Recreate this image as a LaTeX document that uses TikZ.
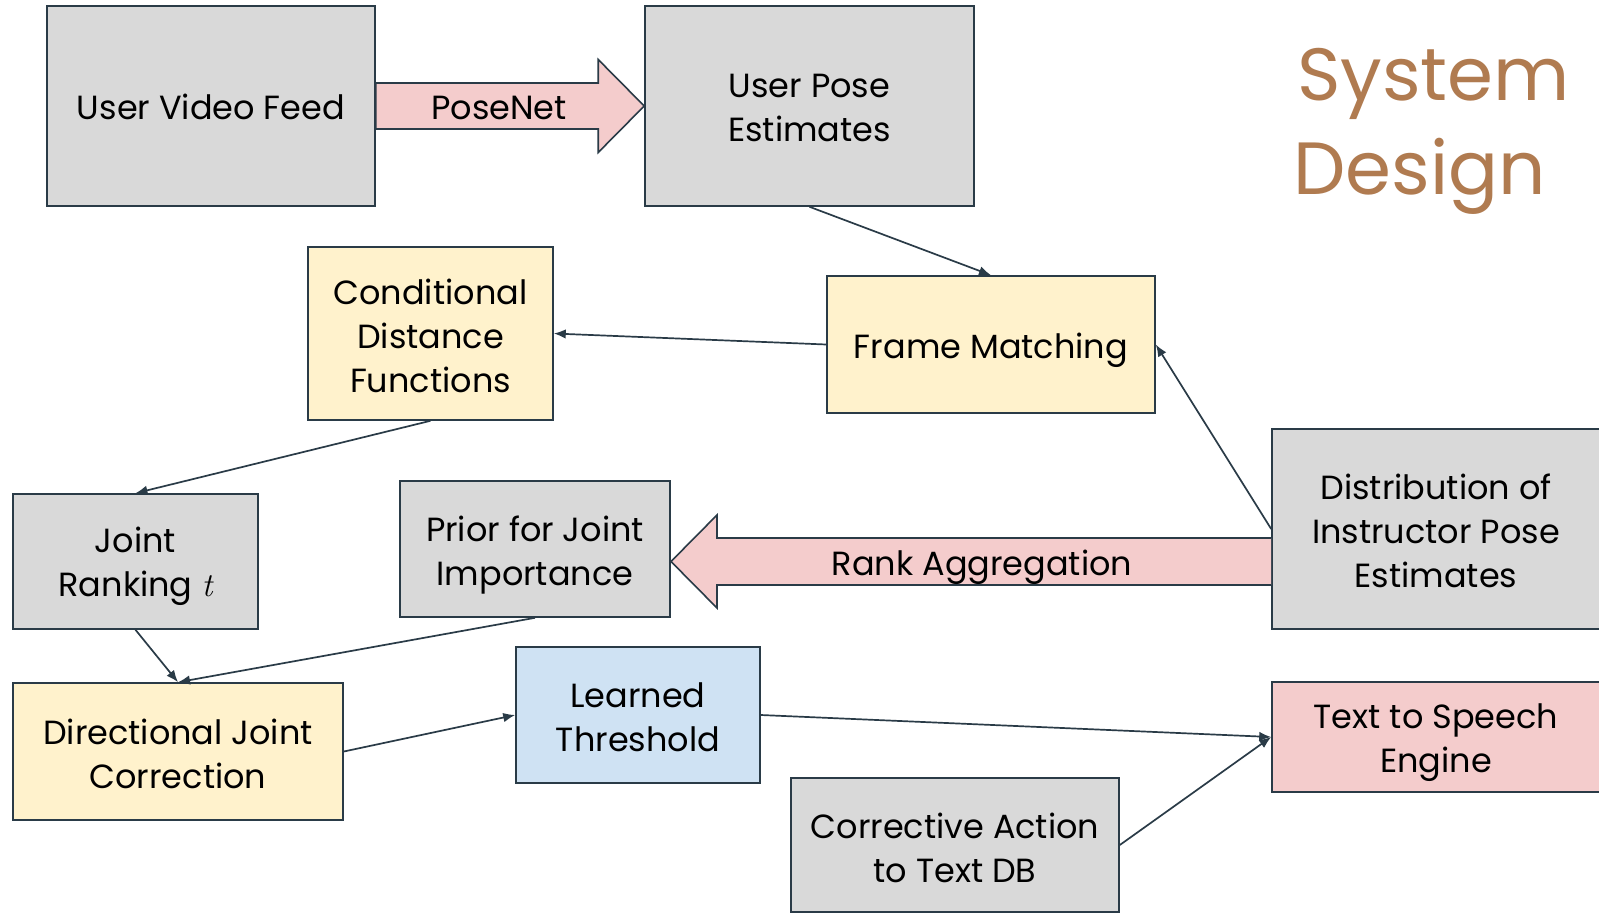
\documentclass[tikz,border=0pt]{standalone}
\usepackage{fontspec}
\setmainfont{Poppins}
\newfontfamily\lmrfont{Latin Modern Roman}
\usetikzlibrary{calc,arrows.meta}
\definecolor{boxgray}{HTML}{D9D9D9}
\definecolor{boxyellow}{HTML}{FFF2CC}
\definecolor{boxblue}{HTML}{CFE2F3}
\definecolor{boxpink}{HTML}{F4CCCC}
\definecolor{edge}{HTML}{2A3B47}
\definecolor{titlecol}{HTML}{B07B50}
\tikzset{
  box/.style={draw=edge, line width=1.6pt, inner sep=0pt},
  gbox/.style={box, fill=boxgray},
  ybox/.style={box, fill=boxyellow},
  bbox/.style={box, fill=boxblue},
  pbox/.style={box, fill=boxpink},
  txt/.style={inner sep=0pt, align=center, font=\fontsize{33.5}{44}\selectfont},
  conn/.style={draw=edge, line width=1.7pt, -{Latex[length=12pt,width=9.5pt]}},
  blockarrow/.style={draw=edge, fill=boxpink, line width=1.6pt, line join=miter},
  titletext/.style={font=\fontsize{74}{94}\selectfont, text=titlecol, inner sep=0pt, anchor=base west}
}
\begin{document}
\begin{tikzpicture}[x=1pt,y=-1pt]
\useasboundingbox (0,0) rectangle (1599,913);
\clip (0,0) rectangle (1599,913);
\fill[white] (0,0) rectangle (1599,913);

\node[gbox, minimum width=328pt, minimum height=200pt] (uvf) at (211,106) {};
\node[txt, yshift=-1pt] (uvft) at (uvf) {User Video Feed};
\node[gbox, minimum width=329pt, minimum height=200pt] (upe) at (809.5,106) {};
\node[txt, yshift=-2pt] (upet) at (upe) {User Pose\\Estimates};
\node[ybox, minimum width=328pt, minimum height=137pt] (fm) at (991,344.5) {};
\node[txt, yshift=-6pt] (fmt) at (fm) {Frame Matching};
\node[ybox, minimum width=245pt, minimum height=173pt] (cdf) at (430.5,333.5) {};
\node[txt, yshift=-2pt] (cdft) at (cdf) {Conditional\\Distance\\Functions};
\node[gbox, minimum width=245pt, minimum height=135pt] (jr) at (135.5,561.5) {};
\node[txt, yshift=-5pt] (jrt) at (jr) {Joint\\Ranking {\lmrfont\itshape t}};
\node[gbox, minimum width=270pt, minimum height=136pt] (pji) at (535,549) {};
\node[txt, yshift=-6pt] (pjit) at (pji) {Prior for Joint\\Importance};
\node[gbox, minimum width=328pt, minimum height=200pt] (dist) at (1436,529) {};
\node[txt, yshift=-2pt] (distt) at (dist) {Distribution of\\Instructor Pose\\Estimates};
\node[ybox, minimum width=330pt, minimum height=137pt] (djc) at (178,751.5) {};
\node[txt, yshift=-2pt] (djct) at (djc) {Directional Joint\\Correction};
\node[bbox, minimum width=244pt, minimum height=136pt] (lt) at (638,715) {};
\node[txt, yshift=-2pt] (ltt) at (lt) {Learned\\Threshold};
\node[pbox, minimum width=328pt, minimum height=110pt] (tts) at (1436,737) {};
\node[txt, yshift=-6pt] (ttst) at (tts) {Text to Speech\\Engine};
\node[gbox, minimum width=328pt, minimum height=134pt] (cat) at (955,845) {};
\node[txt, yshift=-3pt] (catt) at (cat) {Corrective Action\\to Text DB};

% PoseNet block arrow
\draw[blockarrow] ($(uvf.east)+(0,23)$) -- ($(upe.west)+(-46,23)$) -- ($(upe.west)+(-46,46.5)$) -- (upe.west)
  -- ($(upe.west)+(-46,-46.5)$) -- ($(upe.west)+(-46,-23)$) -- ($(uvf.east)+(0,-23)$) -- cycle;
\node[txt] (posenet) at (499,108) {PoseNet};

% Rank Aggregation block arrow
\coordinate (ratip) at (671,561.5);
\coordinate (rastart) at (dist.west |- ratip);
\draw[blockarrow] ($(rastart)+(0,-23.5)$) -- ($(ratip)+(46,-23.5)$) -- ($(ratip)+(46,-46.5)$) -- (ratip)
  -- ($(ratip)+(46,46.5)$) -- ($(ratip)+(46,23.5)$) -- ($(rastart)+(0,23.5)$);
\node[txt] (rankagg) at (982,567) {Rank Aggregation};

% connectors
\draw[conn] (upe.south) -- (fm.north);
\draw[conn] (fm.west) -- (cdf.east);
\draw[conn] (cdf.south) -- (jr.north);
\draw[conn] (dist.west) -- (fm.east);
\draw[conn] (jr.south) -- (djc.north);
\draw[conn] (pji.south) -- (djc.north);
\draw[conn] (djc.east) -- (lt.west);
\draw[conn] (lt.east) -- (tts.west);
\draw[conn] (cat.east) -- (tts.west);

% title
\node[titletext] (sys) at (1297,100) {System};
\node[titletext] (des) at (1293,194) {Design};
\end{tikzpicture}
\end{document}
